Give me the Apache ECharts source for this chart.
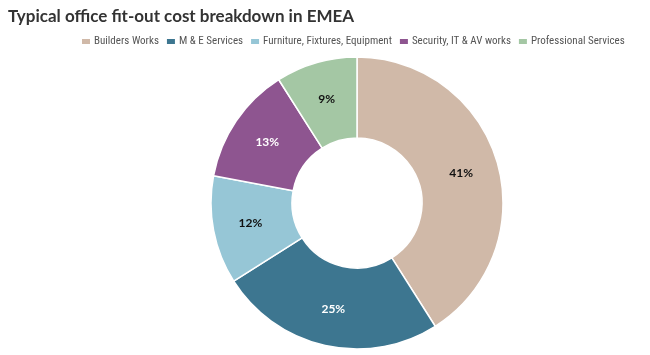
<!DOCTYPE html>
<html><head><meta charset="utf-8">
<script src="https://cdn.jsdelivr.net/npm/echarts@6/dist/echarts.min.js"></script>
<style>html,body{margin:0;padding:0;background:#fff}#c{width:650px;height:355px}</style>
</head><body><div id="c"></div>
<script>
const categories = ["Builders Works", "M & E Services", "Furniture, Fixtures, Equipment", "Security, IT & AV works", "Professional Services"];
const values = [41, 25, 12, 13, 9];
const colors = ["#d0b9a8", "#3d7690", "#96c6d6", "#8e5590", "#a4c7a4"];
const labelColors = ["#111", "#fff", "#111", "#fff", "#111"];

const chart = echarts.init(document.getElementById('c'));
chart.setOption({
  animation: false,
  title: {
    text: "Typical office fit-out cost breakdown in EMEA",
    left: 3, top: 3,
    textStyle: {fontFamily: "Lato", fontWeight: "bold", fontSize: 17, color: "#333"}
  },
  legend: {
    top: 31, left: 75, width: 570, padding: 5,
    itemWidth: 10, itemHeight: 7, itemGap: 6,
    icon: 'rect',
    textStyle: {fontFamily: "Roboto Condensed", fontSize: 11, color: "#555", padding: [0,0,0,-2]},
    data: categories
  },
  series: [{
    type: 'pie',
    center: [357, 203],
    radius: [65, 146],
    startAngle: 90,
    clockwise: true,
    itemStyle: {borderColor: '#fff', borderWidth: 1.5},
    label: {
      position: 'inside',
      formatter: '{c}%',
      fontFamily: "Lato", fontWeight: 'bold', fontSize: 12
    },
    labelLine: {show: false},
    emphasis: {disabled: true},
    data: categories.map((n, i) => ({
      name: n, value: values[i],
      itemStyle: {color: colors[i]},
      label: {color: labelColors[i]}
    }))
  }]
});
</script></body></html>
